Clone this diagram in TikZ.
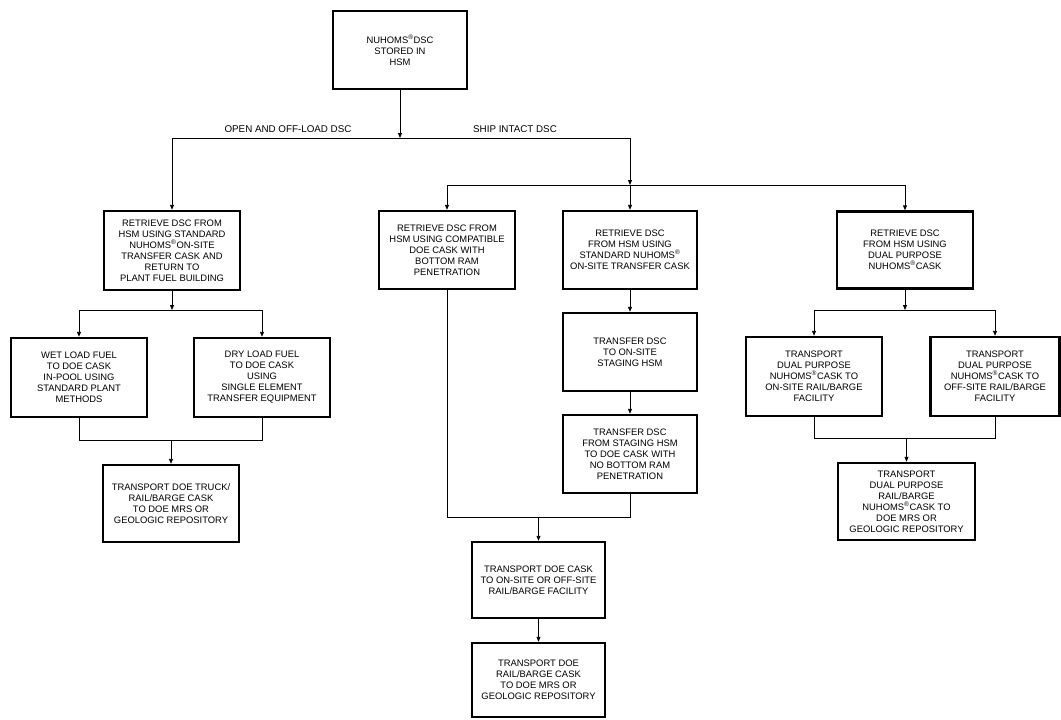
\documentclass[tikz,border=0pt]{standalone}
\usepackage{fontspec}
\setmainfont{Liberation Sans}
\usetikzlibrary{arrows.meta}
\newcommand{\reg}{\textsuperscript{\textregistered}}
\tikzset{
  box/.style={draw, line width=2.4pt, minimum width=134pt, minimum height=78pt, align=center, inner sep=2pt, font=\fontsize{9.4}{11}\selectfont},
  conn/.style={line width=0.9pt},
  arr/.style={line width=0.9pt, -{Triangle[length=5pt,width=4pt]}},
  lbl/.style={font=\fontsize{9.8}{10}\selectfont, inner sep=1pt, anchor=south}
}
\begin{document}
\begin{tikzpicture}[x=1pt,y=-1pt]
\useasboundingbox (0,0) rectangle (1061,720);
% boxes
\node[box] (top) at (400,50) {NUHOMS\reg DSC\\STORED IN\\HSM};
\node[box, minimum width=136pt, minimum height=79pt] (A) at (172,250.5) {RETRIEVE DSC FROM\\HSM USING STANDARD\\NUHOMS\reg ON-SITE\\TRANSFER CASK AND\\RETURN TO\\PLANT FUEL BUILDING};
\node[box, minimum width=136pt] (B) at (447,250) {RETRIEVE DSC FROM\\HSM USING COMPATIBLE\\DOE CASK WITH\\BOTTOM RAM\\PENETRATION};
\node[box] (C) at (630,250) {RETRIEVE DSC\\FROM HSM USING\\STANDARD NUHOMS\reg\\ON-SITE TRANSFER CASK};
\node[box, minimum width=136pt, minimum height=77pt] (D) at (905,250) {RETRIEVE DSC\\FROM HSM USING\\DUAL PURPOSE\\NUHOMS\reg CASK};
\node[box, minimum width=136pt, minimum height=79pt] (E) at (79,377.5) {WET LOAD FUEL\\TO DOE CASK\\IN-POOL USING\\STANDARD PLANT\\METHODS};
\node[box, minimum width=136pt, minimum height=79pt] (F) at (262,377.5) {DRY LOAD FUEL\\TO DOE CASK\\USING\\SINGLE ELEMENT\\TRANSFER EQUIPMENT};
\node[box, minimum width=136pt, minimum height=77pt] (G) at (171,503.5) {TRANSPORT DOE TRUCK/\\RAIL/BARGE CASK\\TO DOE MRS OR\\GEOLOGIC REPOSITORY};
\node[box] (H) at (630,352) {TRANSFER DSC\\TO ON-SITE\\STAGING HSM};
\node[box] (I) at (630,454) {TRANSFER DSC\\FROM STAGING HSM\\TO DOE CASK WITH\\NO BOTTOM RAM\\PENETRATION};
\node[box, minimum width=133pt, minimum height=76pt] (J) at (538.5,580) {TRANSPORT DOE CASK\\TO ON-SITE OR OFF-SITE\\RAIL/BARGE FACILITY};
\node[box, minimum width=133pt, minimum height=74pt] (K) at (538.5,680) {TRANSPORT DOE\\RAIL/BARGE CASK\\TO DOE MRS OR\\GEOLOGIC REPOSITORY};
\node[box, minimum width=136pt, minimum height=79pt] (L) at (814,376.5) {TRANSPORT\\DUAL PURPOSE\\NUHOMS\reg CASK TO\\ON-SITE RAIL/BARGE\\FACILITY};
\node[box, minimum width=129pt, minimum height=79pt] (M) at (995,376.5) {TRANSPORT\\DUAL PURPOSE\\NUHOMS\reg CASK TO\\OFF-SITE RAIL/BARGE\\FACILITY};
\node[box, minimum width=137pt, minimum height=77pt] (N) at (906.5,501.5) {TRANSPORT\\DUAL PURPOSE\\RAIL/BARGE\\NUHOMS\reg CASK TO\\DOE MRS OR\\GEOLOGIC REPOSITORY};
% junction coordinates
\coordinate (t0) at (400,138);
\coordinate (tl) at (172,138);
\coordinate (tr) at (630,138);
\coordinate (s0) at (630,185);
\coordinate (sl) at (447,185);
\coordinate (sr) at (905,185);
\coordinate (a0) at (172,310);
\coordinate (al) at (79,310);
\coordinate (ar) at (262,310);
\coordinate (el) at (79,440);
\coordinate (er) at (262,440);
\coordinate (em) at (171,440);
\coordinate (bl) at (447,517);
\coordinate (br) at (630,517);
\coordinate (bm) at (538.5,517);
\coordinate (d0) at (905,310);
\coordinate (dl) at (814,310);
\coordinate (dr) at (995,310);
\coordinate (ll) at (814,438);
\coordinate (lr) at (995,438);
\coordinate (lm) at (906.5,438);
% connectors
\draw[arr] (top.south) -- (t0);
\draw[conn] (tl) -- (tr);
\draw[arr] (tl) -- (A.north);
\draw[arr] (tr) -- (s0);
\draw[conn] (sl) -- (sr);
\draw[arr] (sl) -- (B.north);
\draw[arr] (s0) -- (C.north);
\draw[arr] (sr) -- (D.north);
\draw[arr] (A.south) -- (a0);
\draw[conn] (al) -- (ar);
\draw[arr] (al) -- (E.north);
\draw[arr] (ar) -- (F.north);
\draw[conn] (E.south) -- (el) -- (er) -- (F.south);
\draw[arr] (em) -- (G.north);
\draw[arr] (C.south) -- (H.north);
\draw[arr] (H.south) -- (I.north);
\draw[conn] (B.south) -- (bl) -- (br) -- (I.south);
\draw[arr] (bm) -- (J.north);
\draw[arr] (J.south) -- (K.north);
\draw[arr] (D.south) -- (d0);
\draw[conn] (dl) -- (dr);
\draw[arr] (dl) -- (L.north);
\draw[arr] (dr) -- (M.north);
\draw[conn] (L.south) -- (ll) -- (lr) -- (M.south);
\draw[arr] (lm) -- (N.north);
% labels
\node[lbl] (lab1) at (288,134) {OPEN AND OFF-LOAD DSC};
\node[lbl] (lab2) at (515,134) {SHIP INTACT DSC};
\end{tikzpicture}
\end{document}
